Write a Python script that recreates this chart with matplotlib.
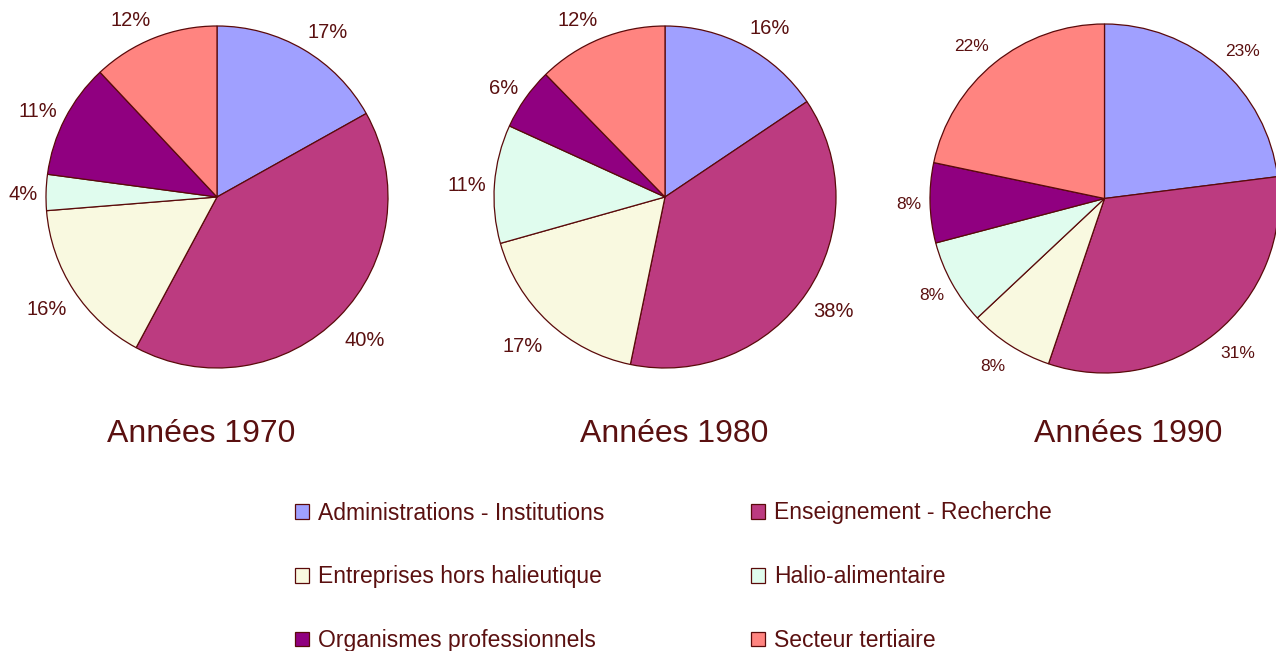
import matplotlib
matplotlib.use("Agg")
import matplotlib.pyplot as plt
import numpy as np

# categories and shares per decade
categories = ["Administrations - Institutions", "Enseignement - Recherche",
              "Entreprises hors halieutique", "Halio-alimentaire",
              "Organismes professionnels", "Secteur tertiaire"]
years = ["Années 1970", "Années 1980", "Années 1990"]
# slice sizes as drawn (read from the slice boundaries)
share1970 = [16.9, 41.0, 15.9, 3.4, 10.9, 12.0]
share1980 = [15.6, 37.7, 17.4, 11.2, 5.9, 12.3]
share1990 = [23.0, 32.2, 7.8, 7.9, 7.4, 21.7]
# percentages printed next to the slices
lab1970 = [17, 40, 16, 4, 11, 12]
lab1980 = [16, 38, 17, 11, 6, 12]
lab1990 = [23, 31, 8, 8, 8, 22]

colors = ["#a0a0ff", "#bc3b80", "#f9f9e0", "#e0fcee", "#900080", "#ff8480"]
edge = "#5a0a0a"
txt = "#5a1010"

plt.rcParams['font.family'] = ['Liberation Sans', 'DejaVu Sans']

fig = plt.figure(figsize=(12.76, 6.51), dpi=100)
W, H = 1276.0, 651.0

# (left, top, diameter) in pixels, label font size, title x center, label shift
layout = [(46, 26, 342, 14.5, 201, 1.0),
          (494, 26, 342, 14.5, 674, 1.0),
          (930, 24, 349, 12.5, 1128, 0.4)]

wedges_first = None
for vals, labs, name, (lx, ty, d, fs, tx, k) in zip([share1970, share1980, share1990],
                                                     [lab1970, lab1980, lab1990], years, layout):
    ax = fig.add_axes([lx / W, (H - ty - d) / H, d / W, d / H])
    wedges, _ = ax.pie(vals, colors=colors, startangle=90, counterclock=False,
                       wedgeprops=dict(edgecolor=edge, linewidth=0.9))
    ax.set_xlim(-1, 1)
    ax.set_ylim(-1, 1)
    ax.set_aspect('equal')
    for w, v in zip(wedges, labs):
        w.set_clip_on(False)
        mid = np.deg2rad((w.theta1 + w.theta2) / 2)
        c, s = np.cos(mid), np.sin(mid)
        offy = np.clip(0.6 * s, -0.5, 0.5) * 0.8 * fs - k * (0.15 + 0.3 * max(-s, 0)) * fs
        offx = -c * 4.0
        ax.annotate("%d%%" % v, xy=(1.08 * c, 1.08 * s), xytext=(offx, offy),
                    textcoords='offset points', ha='left' if c > 0 else 'right',
                    va='center', fontsize=fs, color=txt, annotation_clip=False)
    if wedges_first is None:
        wedges_first = wedges
    fig.text(tx / W, 1 - 434 / H, name, ha='center', va='center',
             fontsize=23, color=txt)

# legend, row-wise order
order = [0, 2, 4, 1, 3, 5]
leg = fig.legend([wedges_first[i] for i in order], [categories[i] for i in order],
                 ncol=2, loc='upper left', bbox_to_anchor=(295 / W, 1 - 501.5 / H),
                 frameon=False, fontsize=16.5, handlelength=0.61, handleheight=0.61,
                 handletextpad=0.39, columnspacing=6.42, labelspacing=1.78,
                 borderaxespad=0, borderpad=0)
for t in leg.get_texts():
    t.set_color(txt)

fig.savefig("out.png", dpi=100)
